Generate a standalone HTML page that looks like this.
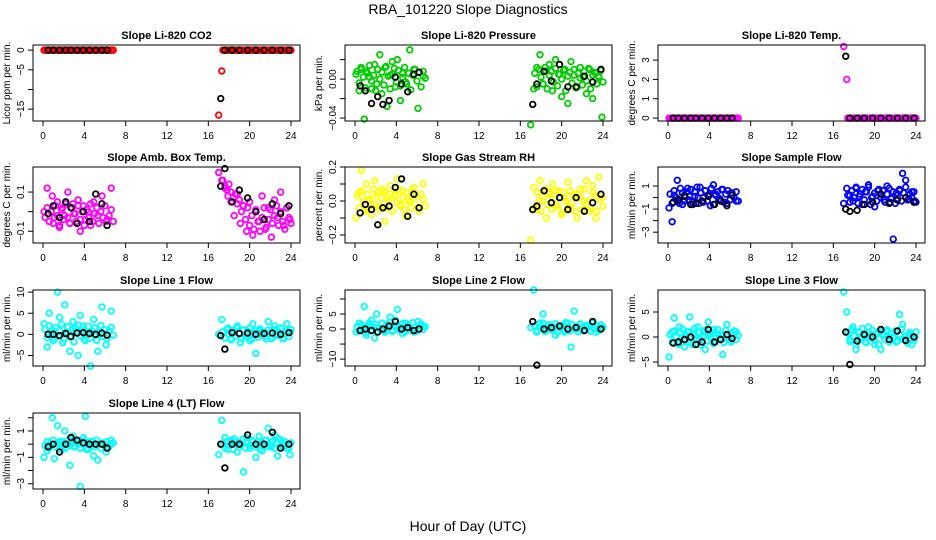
<!DOCTYPE html>
<html><head><meta charset="utf-8"><style>
html,body{margin:0;padding:0;background:#fff;}
svg{display:block;font-family:"Liberation Sans",sans-serif;}
</style></head><body>
<svg id="chart" width="936" height="540" viewBox="0 0 936 540" xmlns="http://www.w3.org/2000/svg">
<text x="468" y="14" text-anchor="middle" font-size="14">RBA_101220  Slope Diagnostics</text>
<text x="468" y="531" text-anchor="middle" font-size="14">Hour of Day (UTC)</text>
</svg>
<script>
const hoursColor=[0.1,0.4,0.6,0.9,1.1,1.4,1.6,1.9,2.1,2.4,2.6,2.9,3.1,3.4,3.6,3.9,4.1,4.4,4.6,4.9,5.3,5.7,6.1,6.6,17.0,17.3,17.6,17.9,18.2,18.5,18.8,19.1,19.4,19.7,20.0,20.3,20.6,20.9,21.2,21.5,21.8,22.1,22.4,22.7,23.0,23.3,23.6,23.9];
const hoursDense=[0.2,0.4,0.6,0.8,1.0,1.2,1.4,1.6,1.8,2.0,2.2,2.4,2.6,2.8,3.0,3.2,3.4,3.6,3.8,4.0,4.2,4.4,4.6,4.8,5.0,5.2,5.4,5.6,5.8,6.0,6.2,6.4,6.6,6.8,17.4,17.6,17.8,18.0,18.2,18.4,18.6,18.8,19.0,19.2,19.4,19.6,19.8,20.0,20.2,20.4,20.6,20.8,21.0,21.2,21.4,21.6,21.8,22.0,22.2,22.4,22.6,22.8,23.0,23.2,23.4,23.6,23.8,24.0];
const hoursBlack=[0.5,1.0,1.6,2.2,2.7,3.3,3.9,4.5,5.1,5.7,6.2,17.2,17.6,18.3,19.0,19.8,20.6,21.4,22.2,23.0,23.8];
const xTicks=[0,4,8,12,16,20,24];

const co2Color=[0,0,0,0,0,0,0,0,0,0,0,0,0,0,0,0,0,0,0,0,0,0,0,0,-16.5,-5.3,0,0,0,0,0,0,0,0,0,0,0,0,0,0,0,0,0,0,0,0,0,0];
const co2Dense=[0,0,0,0,0,0,0,0,0,0,0,0,0,0,0,0,0,0,0,0,0,0,0,0,0,0,0,0,0,0,0,0,0,0,0,0,0,0,0,0,0,0,0,0,0,0,0,0,0,0,0,0,0,0,0,0,0,0,0,0,0,0,0,0,0,0,0,0];
const co2Black=[0,0,0,0,0,0,0,0,0,0,0,-12.3,0,0,0,0,0,0,0,0,0];
const presColor=[0.005,-0.012,0.01,-0.041,0.008,0.002,-0.01,0.015,-0.005,0.025,-0.015,0.012,-0.028,0.004,0.018,-0.008,0.02,-0.022,0.006,-0.003,0.03,0.01,-0.03,0.008,-0.047,-0.01,0.012,0.025,-0.005,0.008,0.015,-0.012,0.02,0.005,-0.018,0.01,-0.025,0.018,0.004,-0.008,0.012,0.002,-0.015,0.01,-0.02,0.006,0.003,-0.039];
const presDense=[0.008,-0.004,0.012,0.002,-0.009,0.006,0.014,-0.002,0.004,-0.012,0.01,0.0,0.007,-0.006,0.013,0.003,-0.01,0.005,0.011,-0.003,0.009,-0.007,0.002,0.012,-0.005,0.006,-0.011,0.004,0.01,-0.002,0.007,-0.008,0.003,0.001,0.006,-0.008,0.01,0.002,-0.005,0.012,-0.01,0.004,0.008,-0.003,0.011,-0.007,0.005,0.0,0.009,-0.012,0.003,0.007,-0.004,0.01,-0.009,0.006,0.001,-0.006,0.008,-0.002,0.011,-0.01,0.004,0.007,-0.005,0.002,0.009,-0.003];
const presBlack=[-0.007,-0.012,-0.025,-0.018,-0.026,-0.022,0.002,-0.005,-0.013,0.005,0.007,-0.026,-0.005,0.008,-0.002,0.015,-0.008,-0.008,0.003,-0.003,0.01];
const tempColor=[0,0,0,0,0,0,0,0,0,0,0,0,0,0,0,0,0,0,0,0,0,0,0,0,3.7,2.0,0,0,0,0,0,0,0,0,0,0,0,0,0,0,0,0,0,0,0,0,0,0];
const tempDense=[0,0,0,0,0,0,0,0,0,0,0,0,0,0,0,0,0,0,0,0,0,0,0,0,0,0,0,0,0,0,0,0,0,0,0,0,0,0,0,0,0,0,0,0,0,0,0,0,0,0,0,0,0,0,0,0,0,0,0,0,0,0,0,0,0,0,0,0];
const tempBlack=[0,0,0,0,0,0,0,0,0,0,0,3.2,0,0,0,0,0,0,0,0,0];
const ambColor=[0.0,0.12,-0.05,0.08,-0.03,0.05,-0.08,0.02,-0.02,0.1,-0.06,0.04,-0.01,0.06,-0.1,0.03,-0.04,0.0,-0.07,0.05,-0.02,0.08,-0.05,0.12,0.2,0.16,0.12,0.08,0.05,-0.02,0.09,-0.06,0.03,-0.1,0.05,-0.12,0.0,-0.05,0.08,-0.09,0.02,-0.13,0.06,-0.03,0.1,-0.07,0.02,-0.04];
const ambDense=[-0.03,0.02,-0.05,0.0,-0.06,0.03,-0.02,-0.07,0.01,-0.04,0.04,-0.03,-0.06,0.02,-0.01,-0.05,0.03,-0.04,0.0,-0.07,0.01,-0.03,0.04,-0.05,-0.01,0.02,-0.06,0.0,-0.03,0.03,-0.04,-0.02,0.01,-0.05,0.16,0.13,0.11,0.14,0.1,0.07,0.09,0.04,0.06,0.0,0.03,-0.04,0.02,-0.07,-0.02,-0.09,0.01,-0.05,-0.1,-0.03,0.02,-0.08,-0.04,0.01,-0.06,-0.02,0.03,-0.07,0.0,-0.05,-0.09,0.02,-0.03,-0.06];
const ambBlack=[-0.01,0.03,-0.03,0.05,0.02,-0.06,0.0,-0.05,0.09,0.04,-0.07,0.13,0.22,0.05,0.11,0.07,0.0,-0.04,0.04,-0.01,0.03];
const rhColor=[-0.1,0.05,0.18,-0.05,0.1,0.0,-0.08,0.12,0.03,-0.03,0.07,-0.12,0.02,0.09,-0.06,0.04,0.13,-0.02,0.06,-0.09,0.01,0.08,-0.04,0.1,-0.23,0.08,-0.05,0.12,0.0,-0.1,0.05,0.1,-0.03,0.06,-0.08,0.02,0.11,-0.05,0.04,-0.1,0.07,0.0,0.12,-0.06,0.09,-0.1,0.14,0.02];
const rhDense=[0.03,-0.04,0.06,0.0,-0.06,0.04,0.01,-0.03,0.07,-0.02,0.05,-0.05,0.02,0.06,-0.04,0.0,0.04,-0.06,0.03,-0.01,0.07,-0.03,0.02,-0.05,0.05,0.0,-0.04,0.06,-0.02,0.03,-0.06,0.04,0.01,-0.03,-0.04,0.05,0.0,-0.06,0.03,0.07,-0.02,0.04,-0.05,0.01,0.06,-0.03,0.02,-0.07,0.05,0.0,-0.04,0.06,-0.01,0.03,-0.06,0.04,0.02,-0.05,0.07,-0.02,0.0,-0.04,0.05,0.03,-0.06,0.01,0.04,-0.03];
const rhBlack=[-0.07,-0.02,-0.05,-0.14,-0.04,-0.03,0.08,0.13,-0.09,0.04,-0.04,-0.05,-0.03,0.06,-0.01,0.02,-0.05,0.02,-0.06,-0.01,0.04];
const sampleColor=[-0.9,-2.1,0.2,1.5,-0.5,0.4,-0.3,0.8,0.1,-0.6,0.5,0.0,0.9,-0.4,0.6,0.2,-0.7,1.1,0.3,-0.2,0.7,-0.5,0.4,-0.3,-0.5,0.8,0.2,-0.3,0.9,0.1,-0.6,0.5,1.1,0.0,-0.8,0.6,0.3,-0.2,1.0,-0.4,-3.6,0.4,0.7,2.1,1.5,-0.1,0.5,-0.3];
const sampleDense=[0.3,-0.5,0.6,0.0,-0.3,0.8,-0.6,0.2,0.5,-0.2,0.7,-0.4,0.1,0.9,-0.5,0.4,0.0,0.6,-0.3,0.3,0.8,-0.6,0.2,0.5,-0.1,0.7,-0.4,0.3,0.6,-0.2,0.4,0.0,0.5,-0.3,0.2,-0.4,0.6,0.0,0.8,-0.5,0.3,0.7,-0.2,0.5,0.9,-0.6,0.1,0.4,-0.3,0.7,0.0,0.6,-0.4,0.3,0.8,-0.1,0.5,-0.5,0.2,0.6,-0.3,0.4,0.9,-0.2,0.3,0.0,0.5,-0.4];
const sampleBlack=[-0.4,-0.2,0.1,-0.6,-0.5,-0.3,0.1,-0.6,-0.3,-0.7,0.2,-1.0,-1.2,-1.1,-0.6,-0.4,0.3,-0.5,-0.2,0.0,-0.4];
const line1Color=[2.5,-3,5,1,-1,10,4,-2,7,0.5,-4,3,1.5,-5,4.5,2,-1.5,0,-7.5,3.5,-4,6.5,-2.5,5.5,0,3.5,-3.5,1.5,-1,0.5,2,-2,1,0,-1.5,2.5,-4.5,1,0.5,-0.5,3,-1,2,0,1.5,-1,2.5,0.5];
const line1Dense=[1.2,-0.8,2.0,0.3,-1.5,1.6,-0.4,0.9,2.4,-1.1,0.5,1.8,-0.6,1.0,-1.8,0.7,2.2,-0.3,1.4,-1.2,0.2,1.9,-0.9,0.6,1.5,-1.4,0.4,2.1,-0.5,1.1,-1.0,0.8,1.7,-0.2,0.6,-0.9,1.2,0.0,-1.3,0.9,-0.4,1.5,0.3,-1.0,1.1,-0.6,0.7,1.4,-1.2,0.2,0.9,-0.7,1.3,-0.2,0.5,-1.1,1.0,0.4,-0.8,1.2,-0.3,0.6,1.4,-1.0,0.1,0.8,-0.5,1.1];
const line1Black=[0,0,-0.3,0.2,-0.5,0.3,0.4,0.2,0,0.3,-0.2,-0.3,-3.5,0.4,0.2,0.3,0,0.2,0.3,0,0.4];
const line2Color=[-1,2,0,7.5,-2,1,3,-3,5,0,2,-1,1.5,4,-0.5,3,6.5,0,-1.5,2,0.5,-1,2.5,1,0.5,13,-1,2,5,-0.5,1.5,0,-2,1,0.5,-1,2,-6,6,0,1.5,-0.5,1,0.5,2,-1,0,0.5];
const line2Dense=[0.8,-0.6,1.5,0.2,-1.2,1.1,2.0,-0.3,0.7,1.6,-0.9,0.4,1.9,-0.5,1.2,0.0,2.2,-0.8,0.9,1.4,-0.2,0.6,1.8,-1.0,0.3,1.3,-0.4,2.1,0.5,-0.7,1.0,1.7,-0.1,0.8,1.0,-0.5,1.6,0.3,2.0,-0.8,0.9,1.4,-0.2,0.6,1.8,-1.0,0.4,1.2,-0.4,2.1,0.7,-0.6,1.5,0.1,0.9,-0.9,1.7,0.5,-0.3,1.3,0.8,-0.7,1.9,0.2,1.1,-0.5,1.4,0.6];
const line2Black=[-0.5,0,-0.5,-1,0,1,2.5,0,0.5,-0.5,0,2.5,-12,0,0.5,1,0,0.5,-0.5,2.5,0];
const line3Color=[-4,1,3.8,-1,2,0,-2,1,4,-1.5,0.5,2,-0.5,1,-2.5,3,0,1.5,-1,0.5,-3.5,2.5,-1,1,9,5,-0.5,2,-2.5,1,0,-1,2,0.5,-1.5,1,-2.5,0.5,1,-0.5,0,-1,4.5,2.5,-0.5,0.5,-1.5,0];
const line3Dense=[0.5,-1.0,1.2,0.0,-1.5,0.8,1.6,-0.6,0.3,1.1,-1.2,0.6,1.8,-0.4,0.9,-1.6,0.2,1.4,-0.8,0.5,1.0,-1.3,0.7,1.5,-0.2,0.4,-1.1,1.3,0.1,-0.7,0.8,1.2,-0.5,0.3,0.8,-0.9,1.5,0.2,-1.4,1.0,-0.3,1.7,0.4,-1.1,0.9,0.0,1.3,-0.7,0.6,-1.5,1.1,0.3,-0.5,1.4,-1.0,0.7,0.1,1.2,-0.8,0.5,1.6,-0.4,0.2,-1.2,0.9,0.4,-0.6,1.0];
const line3Black=[-1.2,-1,-0.5,0,-1.5,-1,1.5,-1,-0.5,0.5,-0.3,1,-5.5,-0.8,0.5,0,1.5,-0.5,1.2,-0.7,0];
const line4Color=[-1,-0.5,0,2,-1.1,1.4,0.2,-0.4,1,0,-1.6,0.6,-0.2,0,-3.2,0.5,2.1,-0.4,0.2,-0.9,-1.2,0,-0.6,0.3,-0.8,1.8,0.5,-0.4,0.2,0.4,-0.6,0.1,-2.1,0.5,-0.3,0.2,-1.0,0.6,-0.5,0.3,1.2,-0.2,0.7,-0.9,0.3,0,-0.3,-0.8];
const line4Dense=[-0.1,0.2,-0.3,0.0,0.3,-0.2,0.1,-0.4,0.2,0.0,-0.3,0.3,-0.1,0.4,-0.2,0.1,0.2,-0.3,0.0,0.3,-0.4,0.1,-0.1,0.2,-0.2,0.3,0.0,-0.3,0.1,-0.1,0.2,-0.2,0.0,0.1,0.0,-0.3,0.2,-0.1,0.3,-0.4,0.1,0.2,-0.2,0.0,0.4,-0.3,0.1,-0.1,0.3,-0.2,0.0,0.2,-0.4,0.1,-0.1,0.3,-0.2,0.0,0.2,-0.3,0.1,0.4,-0.1,-0.2,0.2,0.0,-0.3,0.1];
const line4Black=[-0.2,0,-0.6,0,0.5,0.3,0.1,0.0,0,0,-0.3,0,-1.8,0,0,0.7,0,0,0.9,-0.3,0];

const panels=[
 {key:'co2',title:'Slope Li-820 CO2',ylab:'Licor ppm per min.',col:0,row:0,ymin:-18,ymax:1.3,ticks:[0,-5,-10,-15],labels:['0','\u22125','','\u221215'],color:'#ff0000',c:co2Color,d:co2Dense,k:co2Black},
 {key:'pressure',title:'Slope Li-820 Pressure',ylab:'kPa per min.',col:1,row:0,ymin:-0.043,ymax:0.035,ticks:[-0.04,-0.02,0,0.02],labels:['\u22120.04','','0.00',''],color:'#00cc00',c:presColor,d:presDense,k:presBlack},
 {key:'temp',title:'Slope Li-820 Temp.',ylab:'degrees C per min.',col:2,row:0,ymin:-0.15,ymax:3.78,ticks:[0,1,2,3],labels:['0','1','2','3'],color:'#ff00ff',c:tempColor,d:tempDense,k:tempBlack},
 {key:'amb',title:'Slope Amb. Box Temp.',ylab:'degrees C per min.',col:0,row:1,ymin:-0.16,ymax:0.228,ticks:[-0.1,0,0.1],labels:['\u22120.1','','0.1'],color:'#ff00ff',c:ambColor,d:ambDense,k:ambBlack},
 {key:'rh',title:'Slope Gas Stream RH',ylab:'percent per min.',col:1,row:1,ymin:-0.247,ymax:0.2,ticks:[-0.2,-0.1,0,0.1,0.2],labels:['\u22120.2','','0.0','','0.2'],color:'#ffff00',c:rhColor,d:rhDense,k:rhBlack},
 {key:'sample',title:'Slope Sample Flow',ylab:'ml/min per min.',col:2,row:1,ymin:-3.94,ymax:2.65,ticks:[-3,-2,-1,0,1],labels:['\u22123','','\u22121','','1'],color:'#0000ff',c:sampleColor,d:sampleDense,k:sampleBlack},
 {key:'line1',title:'Slope Line 1 Flow',ylab:'ml/min per min.',col:0,row:2,ymin:-7.5,ymax:10.5,ticks:[-5,0,5,10],labels:['\u22125','0','5','10'],color:'#00ffff',c:line1Color,d:line1Dense,k:line1Black},
 {key:'line2',title:'Slope Line 2 Flow',ylab:'ml/min per min.',col:1,row:2,ymin:-12.3,ymax:13,ticks:[-10,-5,0,5,10],labels:['\u221210','','0','5',''],color:'#00ffff',c:line2Color,d:line2Dense,k:line2Black},
 {key:'line3',title:'Slope Line 3 Flow',ylab:'ml/min per min.',col:2,row:2,ymin:-5.8,ymax:9.4,ticks:[-5,0,5],labels:['\u22125','0','5'],color:'#00ffff',c:line3Color,d:line3Dense,k:line3Black},
 {key:'line4',title:'Slope Line 4 (LT) Flow',ylab:'ml/min per min.',col:0,row:3,ymin:-3.4,ymax:2.36,ticks:[-3,-2,-1,0,1,2],labels:['\u22123','','\u22121','','1',''],color:'#00ffff',c:line4Color,d:line4Dense,k:line4Black}
];
const colLeft=[33,345,658], rowTop=[45,167,290,413], boxW=267, boxH=76;
const NS='http://www.w3.org/2000/svg';
const svg=document.getElementById('chart');
function mk(tag,attrs,parent){const e=document.createElementNS(NS,tag);for(const a in attrs)e.setAttribute(a,attrs[a]);(parent||svg).appendChild(e);return e;}
panels.forEach(p=>{
  const L=colLeft[p.col],T=rowTop[p.row];
  const xs=h=>L+10+h*(boxW-19)/24;
  const ys=v=>T+boxH-(v-p.ymin)/(p.ymax-p.ymin)*boxH;
  const g=mk('g',{});
  
  
  const t=mk('text',{x:L+boxW/2,y:T-6,'text-anchor':'middle','font-size':11,'font-weight':'bold'},g);
  
  
  t.textContent=p.title;
  const yl=mk('text',{x:0,y:0,'text-anchor':'middle','font-size':10,transform:`translate(${L-23},${T+boxH/2}) rotate(-90)`},g);
  
  
  yl.textContent=p.ylab;
  xTicks.forEach(v=>{
    const x=xs(v);
    mk('line',{x1:x,x2:x,y1:T+boxH,y2:T+boxH+5,stroke:'#000'},g);
    const tl=mk('text',{x:x,y:T+boxH+18,'text-anchor':'middle','font-size':10},g);
    
    
    tl.textContent=v;
  });
  p.ticks.forEach((v,i)=>{
    const y=ys(v);
    mk('line',{x1:L,x2:L-5,y1:y,y2:y,stroke:'#000'},g);
    if(p.labels[i]){
      const tl=mk('text',{x:0,y:0,'text-anchor':'middle','font-size':10,transform:`translate(${L-9},${y}) rotate(-90)`},g);
      
      
      tl.textContent=p.labels[i];
    }
  });
  p.d.forEach((v,i)=>{
    const c=mk('circle',{cx:xs(hoursDense[i]),cy:ys(v),r:2.8,fill:'none',stroke:p.color,'stroke-width':1.8},g);
    
    
  });
  p.c.forEach((v,i)=>{
    const c=mk('circle',{cx:xs(hoursColor[i]),cy:ys(v),r:2.8,fill:'none',stroke:p.color,'stroke-width':1.8},g);
    
    
  });
  p.k.forEach((v,i)=>{
    const c=mk('circle',{cx:xs(hoursBlack[i]),cy:ys(v),r:2.8,fill:'none',stroke:'#000','stroke-width':1.8},g);
    
    
  });
  const b=mk('rect',{x:L,y:T,width:boxW,height:boxH,fill:'none',stroke:'#000','stroke-width':1},g);
  
  
});
</script>
</body></html>
